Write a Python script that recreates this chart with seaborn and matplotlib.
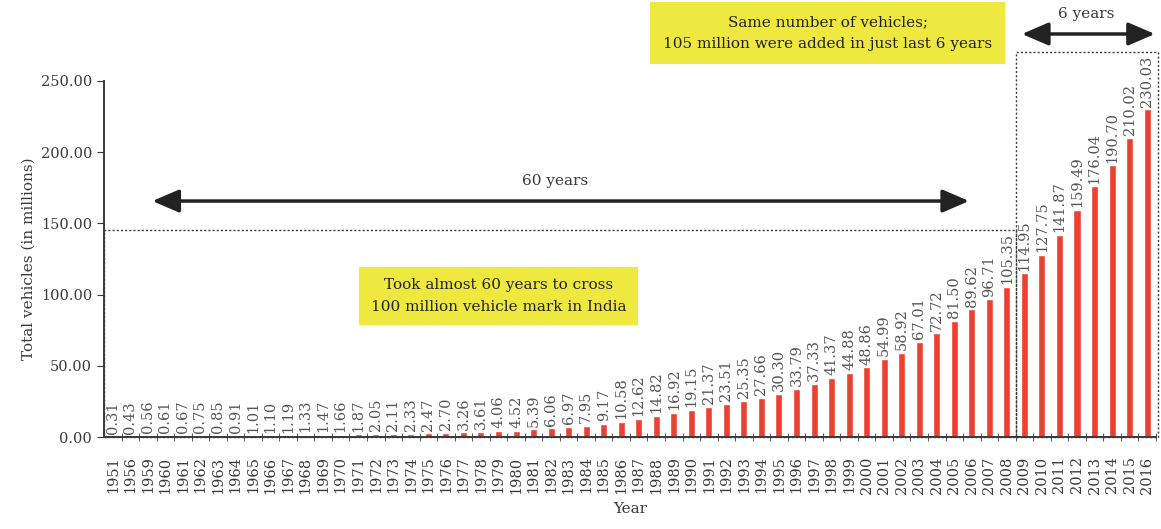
import numpy as np
import pandas as pd
import matplotlib
matplotlib.use("Agg")
import matplotlib.pyplot as plt
from matplotlib.patches import Rectangle
import seaborn as sns

anos = ["1951", "1956", "1959"] + [str(a) for a in range(1960, 2017)]
veiculos = [0.31, 0.43, 0.56, 0.61, 0.67, 0.75, 0.85, 0.91, 1.01, 1.10,
            1.19, 1.33, 1.47, 1.66, 1.87, 2.05, 2.11, 2.33, 2.47, 2.70,
            3.26, 3.61, 4.06, 4.52, 5.39, 6.06, 6.97, 7.95, 9.17, 10.58,
            12.62, 14.82, 16.92, 19.15, 21.37, 23.51, 25.35, 27.66, 30.30, 33.79,
            37.33, 41.37, 44.88, 48.86, 54.99, 58.92, 67.01, 72.72, 81.50, 89.62,
            96.71, 105.35, 114.95, 127.75, 141.87, 159.49, 176.04, 190.70, 210.02, 230.03]
yticks = [0, 50, 100, 150, 200, 250]

df = pd.DataFrame({"ano": anos, "veiculos": veiculos})

sns.set_style("ticks")
plt.rcParams["font.family"] = ["DejaVu Serif"]
cinza = "#3a3a3a"
amarelo = "#efe93f"
vermelho = "#ee4030"

fig = plt.figure(figsize=(11.61, 5.29), dpi=100)
ax = fig.add_axes([0.0896, 0.1739, 0.906, 0.673])

sns.barplot(data=df, x="ano", y="veiculos", color=vermelho, width=0.4,
            saturation=1, ax=ax)
ax.bar_label(ax.containers[0], fmt="%.2f", rotation=90, padding=2,
             fontsize=10.5, color="#555555")

ax.set_xlim(-0.5, len(anos) - 0.5)
ax.set_ylim(0, 250)
ax.set_yticks(yticks)
ax.set_yticklabels([f"{v:.2f}" for v in yticks], fontsize=10.5, color=cinza)
ax.tick_params(axis="x", length=0, rotation=90, labelsize=10.5, labelcolor=cinza, pad=14)
ax.set_xticks(np.arange(len(anos)) + 0.5, minor=True)
ax.tick_params(axis="x", which="minor", length=6, direction="inout", color=cinza)
ax.tick_params(axis="y", length=5, color=cinza)
sns.despine(ax=ax)
for s in ["left", "bottom"]:
    ax.spines[s].set_color(cinza)
    ax.spines[s].set_linewidth(1.4)

ax.set_xlabel("Year", fontsize=11, color=cinza, labelpad=6)
ax.set_ylabel("Total vehicles (in millions)", fontsize=11, color=cinza)

# pontilhados
ax.add_patch(Rectangle((-0.5, 0), 52, 145.5, fill=False, ls=(0, (1.5, 1.5)),
                       lw=1, ec=cinza, clip_on=False))
ax.add_patch(Rectangle((51.5, 0), 8.1, 270.5, fill=False, ls=(0, (1.5, 1.5)),
                       lw=1, ec=cinza, clip_on=False))

# setas
seta = dict(arrowstyle="<|-|>,head_length=0.65,head_width=0.28", color="#222222",
            lw=2.5, mutation_scale=25)
ax.annotate("", xy=(2.1, 165.7), xytext=(49.0, 165.7), arrowprops=seta)
ax.text(25.2, 179.8, "60 years", ha="center", va="center", fontsize=11, color=cinza)
ax.annotate("", xy=(51.7, 283), xytext=(59.6, 283), arrowprops=seta,
            annotation_clip=False)
ax.text(55.5, 297, "6 years", ha="center", va="center", fontsize=11, color=cinza)

ax.text(22.0, 99, "Took almost 60 years to cross\n100 million vehicle mark in India",
        ha="center", va="center", fontsize=11, color="#222222", linespacing=1.7,
        bbox=dict(boxstyle="square,pad=0.75", fc=amarelo, ec="none"))
fig.text(0.713, 0.938, "Same number of vehicles;\n105 million were added in just last 6 years",
         ha="center", va="center", fontsize=11, color="#222222", linespacing=1.7,
         bbox=dict(boxstyle="square,pad=0.85", fc=amarelo, ec="none"))

fig.savefig("out.png", dpi=100)
